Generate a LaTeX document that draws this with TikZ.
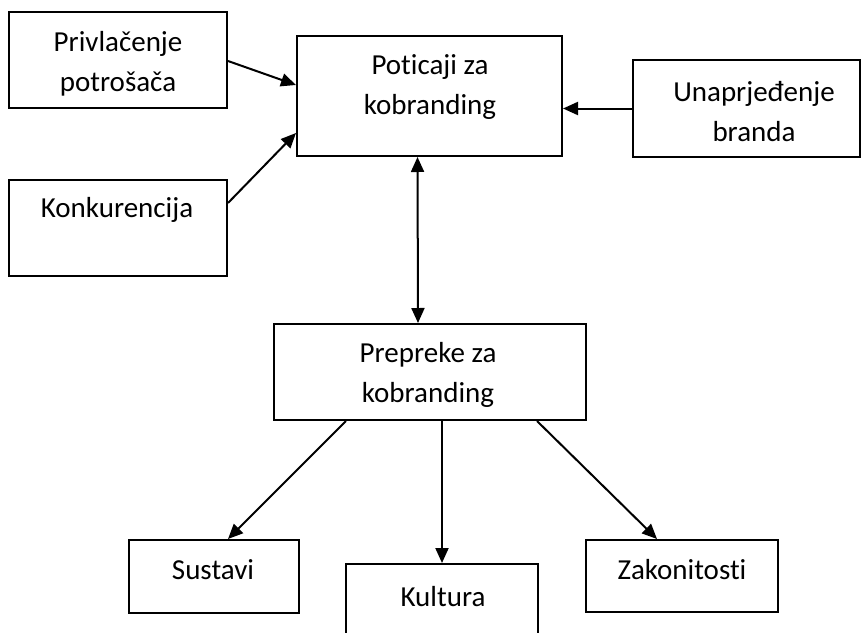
\documentclass[tikz,border=0pt]{standalone}
\usepackage{fontspec}
\setmainfont[Ligatures=NoCommon]{Carlito}
\usetikzlibrary{arrows.meta}
\begin{document}
\begin{tikzpicture}[x=1pt,y=-1pt,
  box/.style={draw=black,line width=2pt,inner sep=0pt,fill=none},
  lbl/.style={inner sep=0pt,align=center,font=\fontsize{29}{40}\selectfont},
  conn/.style={line width=2pt,-{Triangle[length=15pt,width=13pt]}},
  dconn/.style={line width=2pt,{Triangle[length=15pt,width=13pt]}-{Triangle[length=15pt,width=13pt]}}]
\useasboundingbox (0,0) rectangle (862,632);
% boxes
\node[box,minimum width=218pt,minimum height=96pt] (b1) at (118,60) {};
\node[box,minimum width=265pt,minimum height=120pt] (b2) at (429.5,96) {};
\node[box,minimum width=227pt,minimum height=97pt] (b3) at (746.5,108.5) {};
\node[box,minimum width=218pt,minimum height=96pt] (b4) at (118,228) {};
\node[box,minimum width=312pt,minimum height=96pt] (b5) at (430,372) {};
\node[box,minimum width=170pt,minimum height=73pt] (b6) at (214,576.5) {};
\node[box,minimum width=192pt,minimum height=76pt] (b7) at (442,602) {};
\node[box,minimum width=192pt,minimum height=72pt] (b8) at (682,576) {};
% labels
\node[lbl] (t1) at (118,64) {Privlačenje\\potrošača};
\node[lbl] (t2) at (430,87) {Poticaji za\\kobranding};
\node[lbl] (t3) at (754,112) {Unaprjeđenje\\branda};
\node[lbl] (t4) at (117,210) {Konkurencija};
\node[lbl] (t5) at (428,375) {Prepreke za\\kobranding};
\node[lbl] (t6) at (213,570) {Sustavi};
\node[lbl] (t7) at (443,597) {Kultura};
\node[lbl] (t8) at (682,570) {Zakonitosti};
% connectors
\draw[conn] ([yshift=-1pt]b1.east) -- ([yshift=11pt]b2.west);
\draw[conn] ([yshift=25pt]b4.east) -- ([yshift=-37pt]b2.west);
\draw[conn] (b3.west) -- (b2.east |- b3.west);
\draw[dconn] ([xshift=-12pt]b2.south) -- ([xshift=-12pt]b5.north);
\draw[conn] ([xshift=-84pt]b5.south) -- ([xshift=14pt]b6.north);
\draw[conn] ([xshift=12pt]b5.south) -- (b7.north);
\draw[conn] ([xshift=107pt]b5.south) -- ([xshift=-25pt]b8.north);
\end{tikzpicture}
\end{document}
